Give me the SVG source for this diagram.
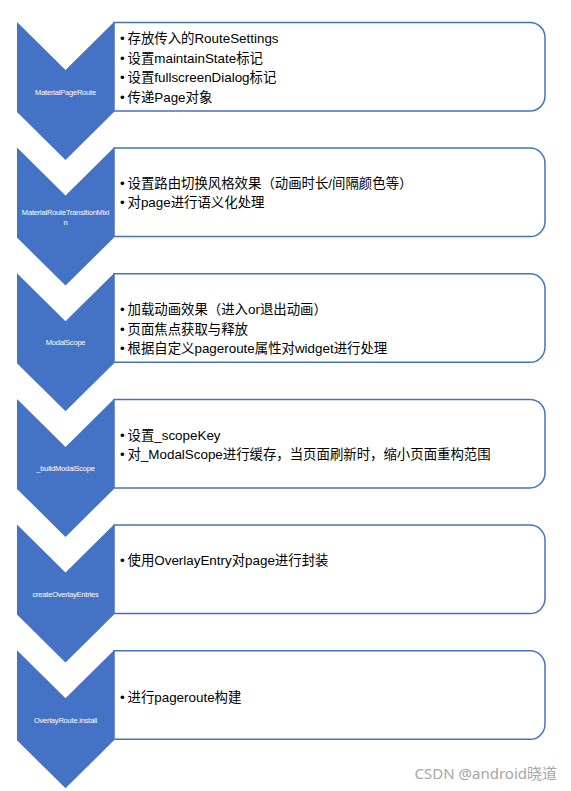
<svg xmlns="http://www.w3.org/2000/svg" width="571" height="791" viewBox="0 0 571 791">
<style>
.bg{fill:#ffffff}
.chev{fill:#4472C4}
.box{fill:#ffffff;stroke:#4472C4;stroke-width:1.5}
.lbl{font-family:"Liberation Sans",Arial,sans-serif;font-size:7.5px;fill:#ffffff;text-anchor:middle;letter-spacing:-0.2px}
.txt{font-family:"Liberation Sans","Noto Sans CJK SC",sans-serif;font-size:13.4px;fill:#000000}
.wm{font-family:"Noto Sans","Noto Sans CJK SC",sans-serif;font-size:15px;fill:#a6a6a6;text-anchor:end}
</style>
<defs>
<path id="chevShape" d="M17,0 L65.5,48 L114,0 L114,90 L65.5,138 L17,90 Z"/>
<path id="boxShape" d="M114,0.5 H530 A15,15 0 0 1 545,15.5 V74 A15,15 0 0 1 530,89 H114 Z"/>
</defs>
<rect class="bg" x="0" y="0" width="571" height="791"/>

<g id="connectors"></g>

<g id="step1" transform="translate(0,22)">
<use href="#boxShape" class="box"/>
<use href="#chevShape" class="chev"/>
<text class="lbl" x="65.5" y="72.7">MaterialPageRoute</text>
<g class="txt">
<text x="120" y="20.9">•</text><text x="127.5" y="20.9">存放传入的RouteSettings</text>
<text x="120" y="40.5">•</text><text x="127.5" y="40.5">设置maintainState标记</text>
<text x="120" y="60.1">•</text><text x="127.5" y="60.1">设置fullscreenDialog标记</text>
<text x="120" y="79.7">•</text><text x="127.5" y="79.7">传递Page对象</text>
</g>
</g>

<g id="step2" transform="translate(0,147.6)">
<use href="#boxShape" class="box"/>
<use href="#chevShape" class="chev"/>
<text class="lbl" x="65.5" y="67.1">MaterialRouteTransitionMixi</text>
<text class="lbl" x="65.5" y="77.1">n</text>
<g class="txt">
<text x="120" y="40.1">•</text><text x="127.5" y="40.1">设置路由切换风格效果（动画时长/间隔颜色等）</text>
<text x="120" y="59.7">•</text><text x="127.5" y="59.7">对page进行语义化处理</text>
</g>
</g>

<g id="step3" transform="translate(0,273.3)">
<use href="#boxShape" class="box"/>
<use href="#chevShape" class="chev"/>
<text class="lbl" x="65.5" y="72.2">ModalScope</text>
<g class="txt">
<text x="120" y="41.2">•</text><text x="127.5" y="41.2">加载动画效果（进入or退出动画）</text>
<text x="120" y="60.6">•</text><text x="127.5" y="60.6">页面焦点获取与释放</text>
<text x="120" y="80">•</text><text x="127.5" y="80">根据自定义pageroute属性对widget进行处理</text>
</g>
</g>

<g id="step4" transform="translate(0,398.9)">
<use href="#boxShape" class="box"/>
<use href="#chevShape" class="chev"/>
<text class="lbl" x="65.5" y="71.8">_buildModalScope</text>
<g class="txt">
<text x="120" y="40.8">•</text><text x="127.5" y="40.8">设置_scopeKey</text>
<text x="120" y="60.4">•</text><text x="127.5" y="60.4">对_ModalScope进行缓存，当页面刷新时，缩小页面重构范围</text>
</g>
</g>

<g id="step5" transform="translate(0,524.6)">
<use href="#boxShape" class="box"/>
<use href="#chevShape" class="chev"/>
<text class="lbl" x="65.5" y="72.1">createOverlayEntries</text>
<g class="txt">
<text x="120" y="40.1">•</text><text x="127.5" y="40.1">使用OverlayEntry对page进行封装</text>
</g>
</g>

<g id="step6" transform="translate(0,650.3)">
<use href="#boxShape" class="box"/>
<use href="#chevShape" class="chev"/>
<text class="lbl" x="65.5" y="72.4">OverlayRoute.install</text>
<g class="txt">
<text x="120" y="51.4">•</text><text x="127.5" y="51.4">进行pageroute构建</text>
</g>
</g>

<text class="wm" x="557" y="779">CSDN @android晓道</text>
</svg>
